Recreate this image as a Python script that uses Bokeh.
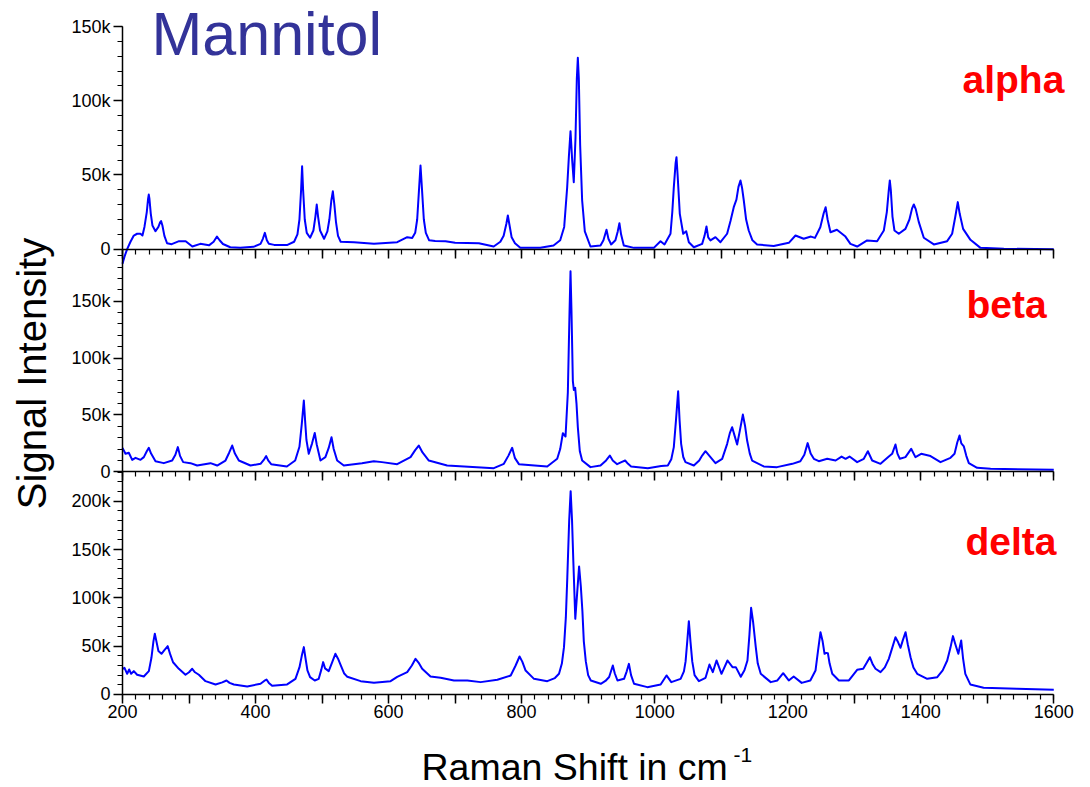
import numpy as np
from bokeh.plotting import figure
from bokeh.models import (Range1d, LinearAxis, SingleIntervalTicker, NumeralTickFormatter,
                          CustomJSTickFormatter, Label, ColumnDataSource)
from bokeh.embed import file_html
from bokeh.resources import INLINE

# Raman shift (cm^-1) and signal intensity (thousands of counts) for the three polymorphs
alpha_x = [200, 203, 207, 212, 217, 222, 227, 230, 233, 236.5, 238.5, 239.5, 240.5, 242.5, 245, 249.6,
           254, 256.5, 258, 260, 263, 267, 274, 285, 295, 305, 317, 330, 337, 342, 346, 351, 362, 377,
           397, 407.5, 411, 414, 417, 420, 428, 448, 458, 463, 466, 468.5, 470, 471.5, 474, 477, 482,
           487, 490, 492, 494, 497, 503, 508, 511, 514, 516.2, 518.5, 521, 524, 528, 548, 578, 613,
           628, 635.5, 640, 643, 646, 648, 650, 653, 656, 661, 670, 685.6, 700, 735.7, 758, 768, 773,
           777, 779.3, 781.5, 785, 790, 798, 828, 848, 858, 864, 868.5, 871, 873.5, 876, 878.4, 881,
           883, 884.5, 886, 888, 891, 895, 903.5, 918.6, 923, 927.6, 930.5, 934.6, 941, 944.5, 947,
           949.5, 953.6, 969, 998.7, 1008.8, 1014.8, 1023.8, 1026.5, 1028.8, 1031.5, 1032.8, 1034.5,
           1037.8, 1042.9, 1047.4, 1051.4, 1058.9, 1071.4, 1075, 1077.9, 1080.5, 1083.9, 1091.4,
           1098.9, 1108.9, 1114, 1118.9, 1122.9, 1126, 1129, 1131.5, 1134, 1137.5, 1141.4, 1147, 1154,
           1179, 1201.7, 1211.7, 1224, 1235, 1241, 1249, 1254, 1257, 1260, 1264.3, 1274, 1286.8,
           1294.3, 1304.4, 1319.4, 1334.4, 1344.5, 1349, 1352, 1353.5, 1355, 1357.5, 1360.5, 1367,
           1377, 1383, 1387, 1389.6, 1392.5, 1397, 1404.6, 1419.7, 1439.7, 1447.2, 1452, 1455.7,
           1458.5, 1463.7, 1474.7, 1489.8, 1525, 1600]
alpha_k = [-9.8, -5, 0, 5, 9.2, 10.4, 10.4, 9.2, 15, 25, 34, 36.8, 34, 24, 16, 12.1,
           15, 18, 18.9, 16, 9, 4, 3.4, 5.4, 5.4, 1.8, 3.6, 2.6, 5, 8.5, 6, 3.5, 1.3, 0.9,
           1.6, 3.6, 7, 11, 6, 3.6, 2.9, 2.9, 5, 10, 20, 40, 55.9, 40, 20, 11, 7.7,
           12.6, 22, 30.1, 22, 12.6, 7, 12, 20, 33, 39, 30, 18, 9, 5, 4.7, 3.6, 4.7,
           8.1, 7.6, 11, 20, 42, 56.4, 42, 20, 11, 6, 5.5, 5.4, 4.3, 4, 1.8, 5, 9,
           17, 22.7, 17, 8, 4, 0.9, 0.9, 2.5, 6, 15, 41.8, 62, 79.5, 60, 45.1, 75,
           115, 128.9, 115, 70, 32.8, 12, 1.8, 2.5, 6, 13.1, 7, 3.2, 6, 12, 17.5,
           10, 2.5, 0.9, 0.9, 5.4, 3.2, 10.4, 25, 41.8, 58, 62, 50,
           23.8, 10.4, 12.1, 4.7, 1.3, 3.6, 9, 15.3, 8, 5.9, 8.1,
           4.7, 10.4, 19, 28.3, 33.4, 42, 46.3, 41, 32.8, 20, 12.6, 6, 3.2,
           2.2, 4.3, 9.2, 7, 8.5, 7.6, 14.8, 24, 28.3, 20, 11.4, 13.1, 8.5,
           3.6, 1.8, 5.9, 5.4, 12.6, 25, 40, 46.3, 40, 22, 12.6, 10.4,
           13.7, 20, 27.5, 30.1, 27, 18.4, 7.7, 3.2, 5.4, 10.4, 22, 31.7,
           24, 13.7, 6.3, 0.9, 0.3, 0]

beta_x = [200, 204.5, 209.5, 214.6, 219.6, 227.1, 232.1, 236.5, 239.6, 243, 249.6, 262.1, 274.7, 279.5,
          283.2, 286.5, 291.2, 302.2, 312.2, 332.3, 342.3, 354.8, 360.5, 364.9, 369, 374.9, 392.4, 407.5,
          413, 416, 419, 423.5, 447.1, 459.6, 466, 469.5, 472.6, 474.5, 476.5, 480, 485, 489, 492, 497.6,
          505, 510, 514.2, 517.5, 522.7, 532.7, 560, 577.8, 590, 612.9, 633, 640, 645.4, 651, 660.5, 688,
          758.2, 773.3, 780, 785.8, 790, 795.9, 838.5, 853.5, 858, 862, 866, 869.5, 872, 873.5, 875, 877,
          878.5, 880.5, 882.5, 884.5, 887.5, 891, 903.5, 918.6, 927, 932.6, 937, 943.6, 950, 955.6, 960,
          964.6, 989.7, 1009.8, 1019.8, 1025, 1028.8, 1032, 1035.3, 1037.5, 1039.8, 1043, 1046.3, 1058.9,
          1067, 1071.4, 1076.4, 1083.9, 1091.4, 1101.5, 1109, 1113, 1116.5, 1120, 1124, 1128, 1132.6,
          1136, 1139, 1143, 1146.5, 1164, 1184, 1207, 1219, 1225, 1230, 1234.5, 1239.3, 1246.8, 1259.4,
          1272, 1281, 1287, 1293, 1304.4, 1314.4, 1320.5, 1327, 1339.5, 1352, 1357, 1362, 1365, 1368.6,
          1377, 1385.6, 1392, 1400.6, 1414.7, 1429.7, 1444.7, 1450.8, 1455, 1458.3, 1461, 1464.8,
          1468.5, 1472.3, 1484.8, 1505, 1600]
beta_k = [21, 15.8, 16.7, 10.5, 12.3, 10.5, 12.9, 18, 21.1, 16, 9.3, 7.6, 9.9, 15,
          21.7, 14, 8.5, 7.6, 5.5, 7.6, 5.5, 9.9, 17, 23.1, 16, 9.9, 5.5, 7,
          11, 13.8, 10, 6.7, 4.7, 9.9, 22, 42, 62.6, 45, 28, 15.8, 25, 34.2, 24, 9.9,
          12.9, 21, 30.4, 20, 9.9, 5.5, 7.5, 9.3, 8.5, 6.7, 12.9, 19, 23.1, 17, 9.9, 5.5,
          3.2, 7, 14, 21.1, 12, 6.7, 4.7, 11.4, 20, 33.9, 31, 70, 140, 176.3, 140, 80,
          72, 73.8, 60, 39.3, 18, 9.9, 4.1, 5.5, 10, 14.3, 10, 6.7, 8.5, 9.9, 7,
          4.7, 3.2, 5, 5.5, 11, 21.7, 45, 70.8, 45, 24.6, 13, 8.5, 5.5,
          10, 14.3, 18.1, 12.9, 7.6, 11.4, 24.6, 34, 39.2, 32, 24, 36, 50.3,
          40, 27.5, 16, 9.9, 4.7, 4.1, 7, 9.3, 15, 25.2, 16, 11.4, 9.3, 11.4,
          9.9, 13.4, 11.4, 13.4, 8.5, 11.4, 18.1, 9.9, 7, 13.4, 15.8, 24, 16, 11.4,
          12.9, 20.2, 12.9, 15.8, 13.8, 8.5, 12.3, 15.8, 26, 31.9, 25, 22.3,
          14, 7.6, 3.5, 2.6, 1.8]

delta_x = [200, 203, 207, 210, 213, 217, 222, 232, 239.6, 243.5, 246.5, 248.6, 251, 254, 258.6, 263, 268,
           271.5, 276, 284.7, 294.7, 300, 304.8, 309, 314.8, 324.8, 339.9, 350, 356.3, 361, 367.4, 387.5,
           407.5, 413, 416.5, 420, 425, 447.5, 460, 466, 469.5, 472.6, 475, 478, 482, 489, 495, 499, 501.6,
           504.5, 510, 515, 520, 524, 528, 533, 538, 558, 578, 603, 613, 628, 635, 640.5, 645, 650.5, 663,
           678.2, 698.3, 718.4, 738.4, 763.5, 783.6, 791, 796.9, 801, 806, 818.6, 838.6, 850, 856.2, 860.5,
           863.7, 866.5, 868.7, 871.5, 873.7, 875.8, 877.7, 880.7, 883.5, 886.4, 889, 891.4, 893.5, 896.5,
           900, 904, 919, 926, 931.6, 937.1, 940, 944.1, 954, 958, 961.3, 964.5, 969, 989, 1009, 1017.8,
           1025, 1039, 1044, 1046.5, 1049, 1051.4, 1053.8, 1056.5, 1060, 1066.5, 1076.5, 1082.4, 1087.4,
           1093, 1100.5, 1109.5, 1117, 1122, 1129.5, 1135, 1139.5, 1142.5, 1145, 1148, 1152, 1155, 1159.5,
           1174.5, 1184.5, 1193.2, 1201.6, 1209, 1221, 1234, 1241.8, 1245.5, 1249.3, 1252.5, 1255.4, 1258,
           1260.4, 1263, 1267, 1277, 1292, 1304.4, 1313.5, 1319, 1323.5, 1328, 1332, 1339.6, 1346, 1352,
           1357, 1362, 1366, 1369.6, 1373, 1377.2, 1380.5, 1384.7, 1389, 1394.7, 1409.7, 1424.8, 1433,
           1439.8, 1444.5, 1448.4, 1452, 1456.5, 1460.8, 1463.5, 1467, 1474.5, 1494.5, 1544.6, 1600]
delta_k = [26.6, 27.6, 21.4, 25.9, 21.4, 24.2, 20.4, 18.6, 24.2, 38, 55, 62.8, 55, 45, 42.1, 46, 50,
           42, 33.4, 26.6, 20.4, 23, 26.6, 23, 20.4, 13.8, 10.4, 12.5, 14.5, 12, 10.4, 8.3,
           11.1, 14, 15.5, 12, 9, 10.4, 16.2, 28, 40, 49, 38, 25, 18, 14.5, 16.2, 26, 33.5,
           27, 24.2, 33, 42.1, 37, 30.3, 22, 18.3, 13.8, 12.1, 13.8, 18.3, 23.1, 30, 36.9, 33, 26.6, 18.6,
           17.3, 14.5, 14.5, 12.8, 15.2, 19.7, 30, 39.3, 34, 24.8, 16.2, 13.8, 17, 21.4, 32,
           49, 80, 121.4, 180, 210.4, 180, 138.6, 78.3, 105, 132.5, 112, 86, 55, 34.2,
           20, 14.5, 11.1, 14, 18.1, 30, 22, 14.5, 16.2, 24, 31.7, 20, 11.1, 7.6, 10.4, 19.7,
           12.8, 16.2, 24, 34.2, 55, 75.9, 55, 34.2, 20, 13.8, 17.3, 31, 23.1,
           35.2, 21.4, 35.2, 28.3, 28.3, 18.3, 25, 35.2, 62, 89.7, 75, 49, 32, 21.4,
           12.8, 14.5, 22, 14.5, 18.6, 12, 14.5, 24.8, 45, 64.5, 55, 42.1, 43,
           42.8, 32, 21.4, 14.5, 14.5, 25.5, 26.6, 33, 38.6, 31, 26.6, 23.1, 28, 36.9,
           48, 59.3, 54, 48.3, 56, 64.5, 52, 38.6, 28, 21.4, 16.2, 17.9, 25,
           35.2, 48, 60.4, 52, 42.1, 55.9, 38, 21.4, 10.4, 6.9, 5.9, 4.8]

panel_names = ["alpha", "beta", "delta"]
x_tick_step = 100
y_tick_step = 50000

FONT = "Liberation Sans"
BLUE = "#0000FF"
W, H = 1090, 787

# The frame fills the canvas; each panel has its own vertical scale so the
# three spectra stack on top of each other between x = 200 and 1600 cm^-1.
p = figure(width=W, height=H, output_backend="svg", toolbar_location=None,
           x_range=Range1d(16.6, 1655.2), y_range=Range1d(-96220, 718010),
           x_axis_location=None, y_axis_location=None,
           min_border_left=0, min_border_right=0, min_border_top=0, min_border_bottom=0)
p.outline_line_color = None
p.background_fill_color = "white"
p.border_fill_color = "white"
for g in p.grid:
    g.visible = False

p.extra_y_ranges = {"alpha": Range1d(-362600, 167520),
                    "beta": Range1d(-277600, 414400)}
range_names = {"alpha": "alpha", "beta": "beta", "delta": "default"}
y_tops = {"alpha": 150000, "beta": 195700, "delta": 230400}


def style_axis(ax):
    ax.axis_line_color = "black"
    ax.axis_line_width = 1.5
    ax.major_tick_line_color = "black"
    ax.major_tick_line_width = 1.5
    ax.minor_tick_line_color = "black"
    ax.minor_tick_line_width = 1.2
    ax.major_label_text_font = FONT
    ax.major_label_text_font_size = "18px"
    ax.major_label_text_color = "black"
    ax.major_tick_in = 0
    ax.major_tick_out = 9
    ax.minor_tick_in = 0
    ax.minor_tick_out = 5


for name in panel_names:
    rn = range_names[name]
    yax = LinearAxis(y_range_name=rn, fixed_location=200, bounds=(0, y_tops[name]),
                     ticker=SingleIntervalTicker(interval=y_tick_step, num_minor_ticks=5),
                     formatter=NumeralTickFormatter(format="0a"))
    style_axis(yax)
    yax.major_label_standoff = 3
    p.add_layout(yax, "left")

    xax = LinearAxis(y_range_name=rn, fixed_location=0, bounds=(200, 1600),
                     ticker=SingleIntervalTicker(interval=x_tick_step, num_minor_ticks=5))
    style_axis(xax)
    if name == "delta":
        xax.formatter = CustomJSTickFormatter(code="return (tick % 200 === 0) ? tick.toFixed(0) : '';")
        xax.major_label_standoff = 2
    else:
        xax.formatter = CustomJSTickFormatter(code="return '';")
    p.add_layout(xax, "below")

series = {"alpha": (alpha_x, alpha_k), "beta": (beta_x, beta_k), "delta": (delta_x, delta_k)}
for name in panel_names:
    xs, ks = series[name]
    src = ColumnDataSource(dict(x=xs, y=np.array(ks) * 1000.0))
    p.line("x", "y", source=src, y_range_name=range_names[name], line_color=BLUE,
           line_width=2, line_join="round")


def add_text(text, sx, sy, size_px, color="black", style="normal", align="left", angle=0.0):
    # sx, sy: anchor in pixels from the top-left corner; sy is the text baseline
    lift = 0.37 * size_px
    if angle:
        sx, y = sx - lift, H - sy
    else:
        y = H - sy + lift
    p.add_layout(Label(x=sx, y=y, x_units="screen", y_units="screen", text=text,
                       text_font=FONT, text_font_size=f"{size_px}px", text_color=color,
                       text_font_style=style, text_align=align, text_baseline="alphabetic",
                       angle=angle))


add_text("Mannitol", 151, 56, 61, color="#333399")
add_text("alpha", 962, 93, 39, color="#FF0000", style="bold")
add_text("beta", 966, 318, 39, color="#FF0000", style="bold")
add_text("delta", 965, 555, 39, color="#FF0000", style="bold")
add_text("Signal Intensity", 46, 373, 40, align="center", angle=np.pi / 2)
add_text("Raman Shift in cm", 421, 780, 37.5)
add_text("-1", 733, 762, 21)

open("out.html", "w").write(file_html(p, INLINE))
